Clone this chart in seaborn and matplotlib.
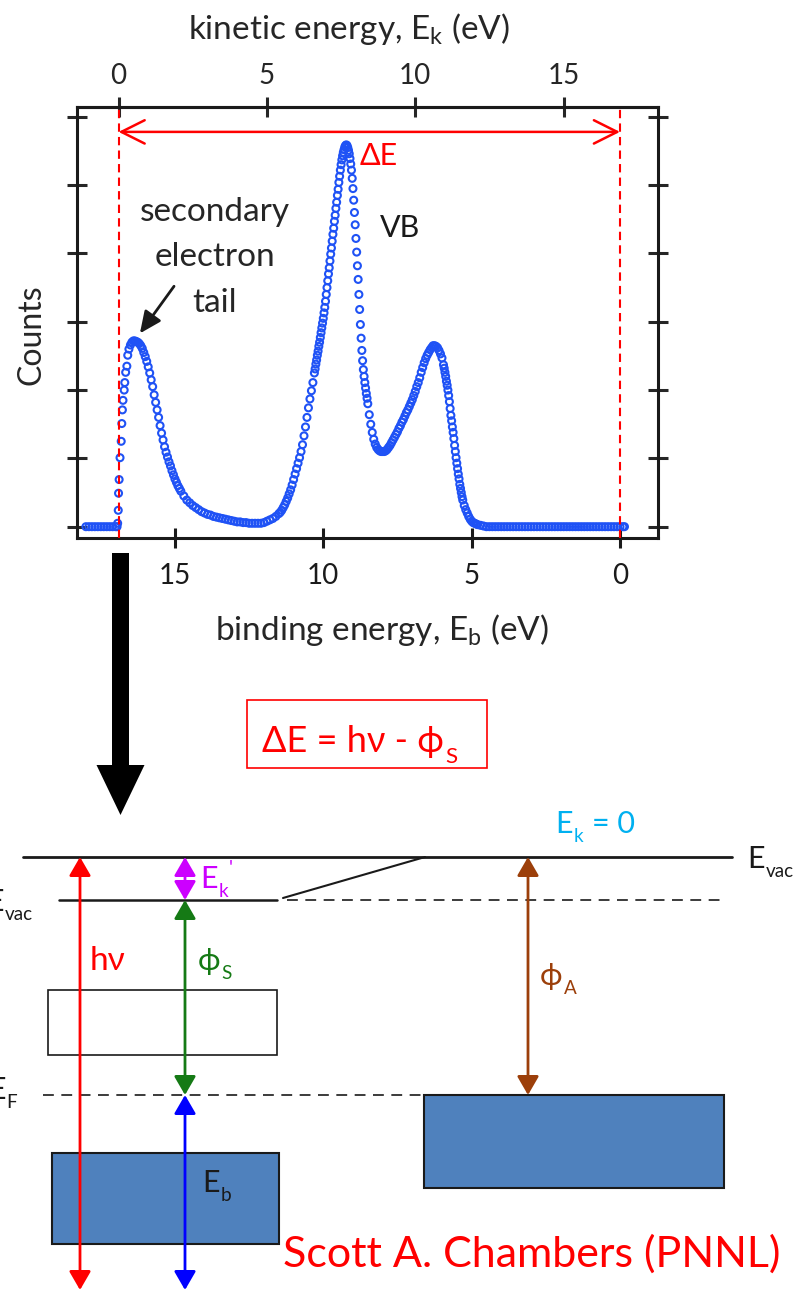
import pandas as pd
import matplotlib
matplotlib.use('Agg')
import matplotlib.pyplot as plt
import seaborn as sns
from matplotlib.patches import Rectangle, FancyArrow

#-------Data
# binding energy (eV) / counts (in units of the y tick spacing)

# flat part below the secondary-electron cutoff
be_base_lo = [18.0, 17.9, 17.8, 17.7, 17.6, 17.5, 17.4, 17.3, 17.2, 17.1, 17.0, 16.95]
ct_base_lo = [0, 0, 0, 0, 0, 0, 0, 0, 0, 0, 0, 0]

# cutoff + secondary electron tail
be_tail = [16.93, 16.91, 16.90, 16.88, 16.85, 16.81, 16.79, 16.77, 16.75, 16.71,
           16.69, 16.66, 16.62, 16.59, 16.55, 16.50, 16.45, 16.40, 16.35, 16.30,
           16.25, 16.20, 16.15, 16.10, 16.05, 16.00, 15.95, 15.90, 15.85, 15.80,
           15.75, 15.70, 15.65, 15.60, 15.55, 15.50, 15.45, 15.40, 15.35, 15.30,
           15.25, 15.20, 15.15, 15.10, 15.05, 15.00, 14.95, 14.90, 14.85, 14.80,
           14.70, 14.60, 14.50, 14.40, 14.30, 14.20, 14.10, 14.00, 13.90, 13.80,
           13.70, 13.60, 13.50, 13.40, 13.30, 13.20, 13.10, 13.00, 12.90, 12.80,
           12.70, 12.60, 12.50, 12.40, 12.30, 12.20, 12.10, 12.00, 11.90, 11.80]
ct_tail = [0.05, 0.24, 0.49, 0.69, 1.01, 1.25, 1.51, 1.71, 1.85, 2.00,
           2.11, 2.26, 2.35, 2.51, 2.60, 2.66, 2.70, 2.72, 2.72, 2.71,
           2.70, 2.68, 2.65, 2.61, 2.55, 2.49, 2.42, 2.34, 2.25, 2.15,
           2.05, 1.93, 1.82, 1.71, 1.60, 1.48, 1.37, 1.27, 1.17, 1.09,
           1.02, 0.95, 0.89, 0.82, 0.76, 0.70, 0.65, 0.60, 0.56, 0.52,
           0.45, 0.39, 0.35, 0.31, 0.28, 0.25, 0.22, 0.20, 0.18, 0.17,
           0.15, 0.14, 0.13, 0.12, 0.11, 0.10, 0.09, 0.08, 0.07, 0.07,
           0.06, 0.06, 0.05, 0.05, 0.05, 0.05, 0.05, 0.06, 0.08, 0.10]

# valence band, main peak
be_vb1 = [11.70, 11.60, 11.50, 11.45, 11.40, 11.35, 11.30, 11.25, 11.20, 11.15,
          11.10, 11.05, 11.00, 10.95, 10.90, 10.85, 10.80, 10.75, 10.70, 10.65,
          10.60, 10.55, 10.50, 10.45, 10.40, 10.35,
          10.30, 10.275, 10.25, 10.225, 10.20, 10.175, 10.15, 10.125, 10.10, 10.075,
          10.05, 10.025, 10.00, 9.975, 9.95, 9.925, 9.90, 9.875, 9.85, 9.825,
          9.80, 9.775, 9.75, 9.725, 9.70, 9.675, 9.65, 9.625, 9.60, 9.575,
          9.55, 9.525, 9.50, 9.475, 9.45, 9.425, 9.40, 9.375, 9.35, 9.325,
          9.30, 9.275, 9.25, 9.225, 9.20, 9.175, 9.15, 9.125, 9.10, 9.075,
          9.05, 9.025, 9.00, 8.975, 8.95, 8.925, 8.90, 8.875, 8.85, 8.825,
          8.80, 8.775, 8.75, 8.725, 8.70, 8.675, 8.65, 8.625, 8.60, 8.575,
          8.55, 8.525, 8.50, 8.45, 8.40, 8.35, 8.30, 8.25, 8.20, 8.15]
ct_vb1 = [0.12, 0.15, 0.19, 0.21, 0.24, 0.28, 0.32, 0.37, 0.42, 0.48,
          0.54, 0.61, 0.69, 0.77, 0.85, 0.93, 1.01, 1.10, 1.20, 1.33,
          1.46, 1.60, 1.74, 1.87, 1.99, 2.11,
          2.25, 2.31, 2.38, 2.44, 2.51, 2.57, 2.64, 2.70, 2.77, 2.84,
          2.91, 2.98, 3.05, 3.13, 3.21, 3.30, 3.40, 3.50, 3.60, 3.70,
          3.79, 3.89, 3.99, 4.08, 4.18, 4.28, 4.37, 4.47, 4.56, 4.66,
          4.75, 4.85, 4.94, 5.04, 5.13, 5.22, 5.30, 5.37, 5.43, 5.48,
          5.52, 5.56, 5.58, 5.59, 5.58, 5.55, 5.51, 5.46, 5.39, 5.31,
          5.22, 5.10, 4.95, 4.78, 4.60, 4.42, 4.22, 4.02, 3.82, 3.62,
          3.40, 3.18, 2.96, 2.76, 2.58, 2.43, 2.30, 2.20, 2.11, 2.03,
          1.95, 1.88, 1.80, 1.64, 1.50, 1.38, 1.28, 1.21, 1.16, 1.13]

# valley + second valence band peak
be_vb2 = [8.10, 8.05, 8.00, 7.95, 7.90, 7.85, 7.80, 7.75, 7.70, 7.65,
          7.60, 7.55, 7.50, 7.45, 7.40, 7.35, 7.30, 7.25, 7.20, 7.15,
          7.10, 7.05, 7.00, 6.95, 6.90, 6.85, 6.80, 6.75, 6.70, 6.65,
          6.60, 6.55, 6.50, 6.45, 6.40, 6.35, 6.30, 6.25, 6.20, 6.15,
          6.10, 6.05, 6.00, 5.95, 5.925, 5.90, 5.875, 5.85, 5.825, 5.80,
          5.775, 5.75, 5.725, 5.70, 5.675, 5.65, 5.625, 5.60, 5.575, 5.55,
          5.525, 5.50, 5.475, 5.45, 5.425, 5.40, 5.375, 5.35, 5.325, 5.30,
          5.25, 5.20, 5.15, 5.10, 5.05, 5.00, 4.95, 4.90, 4.85, 4.80]
ct_vb2 = [1.11, 1.10, 1.10, 1.10, 1.11, 1.13, 1.16, 1.19, 1.23, 1.27,
          1.31, 1.35, 1.39, 1.44, 1.48, 1.53, 1.57, 1.62, 1.67, 1.71,
          1.76, 1.81, 1.86, 1.92, 1.98, 2.05, 2.11, 2.18, 2.26, 2.33,
          2.40, 2.46, 2.51, 2.55, 2.59, 2.62, 2.65, 2.65, 2.64, 2.62,
          2.58, 2.53, 2.47, 2.37, 2.32, 2.26, 2.20, 2.13, 2.07, 2.00,
          1.92, 1.83, 1.73, 1.63, 1.55, 1.46, 1.38, 1.29, 1.19, 1.10,
          1.01, 0.93, 0.85, 0.77, 0.70, 0.62, 0.56, 0.50, 0.44, 0.39,
          0.31, 0.25, 0.20, 0.15, 0.11, 0.08, 0.06, 0.05, 0.04, 0.03]

# flat part up to the Fermi level
be_base_hi = [4.70, 4.60, 4.50, 4.40, 4.30, 4.20, 4.10, 4.00, 3.90, 3.80,
              3.70, 3.60, 3.50, 3.40, 3.30, 3.20, 3.10, 3.00, 2.90, 2.80,
              2.70, 2.60, 2.50, 2.40, 2.30, 2.20, 2.10, 2.00, 1.90, 1.80,
              1.70, 1.60, 1.50, 1.40, 1.30, 1.20, 1.10, 1.00, 0.90, 0.80,
              0.70, 0.60, 0.50, 0.40, 0.30, 0.20, 0.10, 0.00, -0.10, -0.15]
ct_base_hi = [0.02, 0.01, 0, 0, 0, 0, 0, 0, 0, 0,
              0, 0, 0, 0, 0, 0, 0, 0, 0, 0,
              0, 0, 0, 0, 0, 0, 0, 0, 0, 0,
              0, 0, 0, 0, 0, 0, 0, 0, 0, 0,
              0, 0, 0, 0, 0, 0, 0, 0, 0, 0]

ek_zero_be = 16.9          # binding energy where E_k = 0  (hv - phi_S)
be_ticks = [15, 10, 5, 0]
ke_ticks = [0, 5, 10, 15]
count_ticks = [0, 1, 2, 3, 4, 5, 6]

#-------Settings
sns.set_theme(style="white")
plt.rcParams['font.family'] = ['Lato', 'DejaVu Sans']
plt.rcParams['mathtext.default'] = 'regular'

BLUE = '#1f52f5'
RED = '#ff0000'
BOX_BLUE = '#4f81bd'
PX = 100 / 72

fig = plt.figure(figsize=(7.96, 12.92), dpi=100)
renderer = fig.canvas.get_renderer()

#-------Spectrum
ax = fig.add_axes([77 / 796, 1 - 538.3 / 1292, 581 / 796, 431 / 1292])
df = pd.DataFrame({
    'binding': be_base_lo + be_tail + be_vb1 + be_vb2 + be_base_hi,
    'counts': ct_base_lo + ct_tail + ct_vb1 + ct_vb2 + ct_base_hi,
})
sns.scatterplot(data=df, x='binding', y='counts', ax=ax, marker='o', s=25,
                facecolor='none', edgecolor=BLUE, linewidth=1.5, zorder=3, legend=False)

ax.set_xlim(18.30, -1.28)
ax.set_ylim(-0.17, 6.14)
ax.set_xticks(be_ticks)
ax.set_yticks(count_ticks)
ax.set_yticklabels([])
ax.tick_params(axis='x', direction='inout', length=15, width=2.2, labelsize=20,
               pad=10, bottom=True, top=False, colors='k')
ax.tick_params(axis='y', direction='inout', length=15, width=2.2,
               left=True, right=True, labelleft=False)
for sp in ax.spines.values():
    sp.set_linewidth(2.2)
    sp.set_color('k')

ax.set_xlabel('binding energy, $E_b$ (eV)', fontsize=24)
ax.xaxis.set_label_coords(0.525, -0.172)
ax.set_ylabel('Counts', fontsize=23)
ax.yaxis.set_label_coords(-0.052, 0.472)

secax = ax.secondary_xaxis('top', functions=(lambda b: ek_zero_be - b,
                                             lambda k: ek_zero_be - k))
secax.set_xticks(ke_ticks)
secax.tick_params(direction='inout', length=15, width=2.2, labelsize=20, pad=6)
secax.spines['top'].set_linewidth(2.2)
ax.text(0.468, 1.14, 'kinetic energy, $E_k$ (eV)', fontsize=24,
        ha='center', va='bottom', transform=ax.transAxes)

# cutoff / Fermi level markers and the Delta E span
dash = (0, (4, 2.5))
ax.axvline(ek_zero_be, color=RED, ls=dash, lw=1.5, zorder=4)
ax.axvline(0, color=RED, ls=dash, lw=1.5, zorder=4)
ax.annotate('', xy=(0, 5.78), xytext=(ek_zero_be, 5.78),
            arrowprops=dict(arrowstyle='<->,head_length=1.4,head_width=0.7',
                            color=RED, lw=1.8, shrinkA=0, shrinkB=0))
ax.text(8.76, 5.30, 'ΔE', color=RED, fontsize=22, va='baseline')
ax.text(8.09, 4.24, 'VB', color='k', fontsize=22, va='baseline')
for txt, yb in [('secondary', 4.48), ('electron', 3.81), ('tail', 3.15)]:
    ax.text(13.65, yb, txt, fontsize=24, ha='center', va='baseline')
ax.annotate('', xy=(16.18, 2.83), xytext=(15.03, 3.52),
            arrowprops=dict(arrowstyle='-|>,head_length=1.1,head_width=0.5',
                            color='k', lw=2, shrinkA=0, shrinkB=0))

#-------Energy level diagram (pixel coordinates)
ov = fig.add_axes([0, 0, 1, 1])
ov.set_xlim(0, 796)
ov.set_ylim(1292, 0)
ov.axis('off')


def rich(x, y, parts, size, color):
    # draw text pieces left to right: (text, kind, extra gap in px)
    for s, kind, gap in parts:
        x += gap
        fs = size if kind == 'n' else size * 0.62
        dy = {'n': 0, 'sub': 0.3 * size * PX, 'sup': -0.45 * size * PX}[kind]
        t = ov.text(x, y + dy, s, fontsize=fs, color=color, va='baseline',
                    ha='left', zorder=6)
        x += t.get_window_extent(renderer).width


def darrow(x, y0, y1, color):
    ov.annotate('', xy=(x, y1), xytext=(x, y0),
                arrowprops=dict(arrowstyle='<|-|>,head_length=0.95,head_width=0.55',
                                color=color, lw=2, shrinkA=0, shrinkB=0),
                zorder=5)


# big arrow from the spectrum down to the diagram
ov.add_patch(FancyArrow(120.5, 553, 0, 262, width=17, head_width=48, head_length=50,
                        length_includes_head=True, fc='black', ec='black', lw=0))

# Delta E relation
ov.add_patch(Rectangle((247, 700), 240, 68, fc='none', ec=RED, lw=1.2))
rich(262, 752, [('ΔE = hν - ϕ', 'n', 0), ('S', 'sub', 1)], 26, RED)

# levels
ov.plot([23, 732], [857, 857], color='k', lw=2, zorder=2)
ov.plot([59, 277], [900, 900], color='k', lw=1.8, zorder=2)
ov.plot([283, 425], [898, 857], color='k', lw=1.5, zorder=2)
ov.plot([287, 725], [900, 900], color='k', lw=1.2, ls=(0, (6.5, 4.5)), zorder=2)
ov.plot([43, 725], [1095, 1095], color='k', lw=1.2, ls=(0, (6.5, 4.5)), zorder=2)

# bands
ov.add_patch(Rectangle((48, 990), 229, 65, fc='white', ec='k', lw=1.2, zorder=1))
ov.add_patch(Rectangle((52, 1153), 227, 91, fc=BOX_BLUE, ec='k', lw=1.5, zorder=1))
ov.add_patch(Rectangle((424, 1095), 300, 93, fc=BOX_BLUE, ec='k', lw=1.5, zorder=1))

# transitions
darrow(80, 857, 1290, RED)
darrow(185, 857, 900, '#cc00ff')
darrow(185, 900, 1095, '#157a15')
darrow(185, 1095, 1290, '#0000ff')
darrow(528, 857, 1095, '#9c3f0a')

# labels
rich(555, 833, [('E', 'n', 0), ('k', 'sub', 1), ('= 0', 'n', 9)], 22, '#00b0f0')
rich(747, 868, [('E', 'n', 0), ('vac', 'sub', 1)], 22, 'k')
rich(-14, 911, [('E', 'n', 0), ('vac', 'sub', 1)], 22, 'k')
rich(-12, 1099, [('E', 'n', 0), ('F', 'sub', 1)], 22, 'k')
rich(90, 970, [('hν', 'n', 0)], 24, RED)
rich(198, 970, [('ϕ', 'n', 0), ('S', 'sub', 1)], 22, '#157a15')
rich(200, 888, [('E', 'n', 0), ('k', 'sub', 1), ("'", 'sup', 1)], 22, '#cc00ff')
rich(540, 985, [('ϕ', 'n', 0), ('A', 'sub', 1)], 22, '#9c3f0a')
rich(202, 1192, [('E', 'n', 0), ('b', 'sub', 1)], 22, 'k')
ov.text(283, 1267, 'Scott A. Chambers (PNNL)', color=RED, fontsize=31,
        va='baseline', ha='left', zorder=6)

fig.savefig('out.png', dpi=100)
plt.close()
print("Chart saved!")
